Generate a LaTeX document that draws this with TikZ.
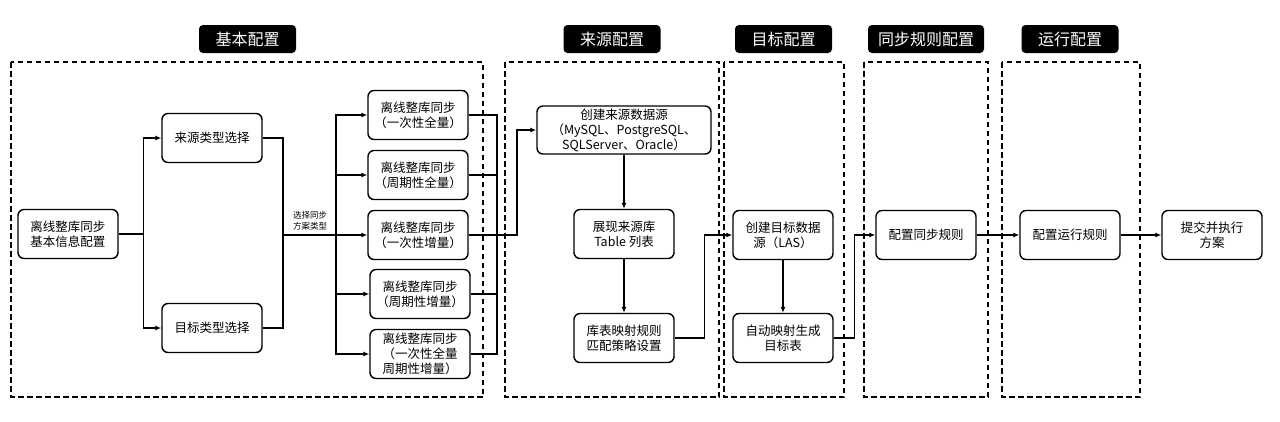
\documentclass[tikz,border=0pt]{standalone}
\usepackage{fontspec}
\setmainfont{Noto Sans CJK SC}
\usetikzlibrary{arrows.meta}

\begin{document}
\begin{tikzpicture}
  [x=1pt,y=-1pt,
   box/.style={draw,line width=1.4pt,rounded corners=6pt,minimum width=100pt,minimum height=49pt,align=center,inner sep=1pt,font=\fontsize{12.5}{15}\selectfont},
   title/.style={fill=black,rounded corners=4pt,text=white,minimum width=97pt,minimum height=28pt,inner sep=1pt,font=\fontsize{16}{19}\selectfont},
   frame/.style={line width=1.4pt,dash pattern=on 5.5pt off 3.5pt},
   link/.style={line width=1.3pt},
   arr/.style={line width=1.3pt,-{Latex[length=6pt,width=5pt]}}]
  \useasboundingbox[fill=white] (0,0) rectangle (1280,421);
  % stages
  \draw[frame] (11,62) rectangle (483,397);
  \draw[frame] (505,62) rectangle (719,397);
  \draw[frame] (724,62) rectangle (844,397);
  \draw[frame] (864,62) rectangle (988,397);
  \draw[frame] (1002,62) rectangle (1140,397);
  \node[title] (t1) at (247.5,39) {基本配置};
  \node[title] (t2) at (612,39) {来源配置};
  \node[title] (t3) at (783.5,39) {目标配置};
  \node[title,minimum width=116pt] (t4) at (926,39) {同步规则配置};
  \node[title] (t5) at (1070,39) {运行配置};
  % basic
  \node[box] (base) at (68,234) {离线整库同步\\基本信息配置};
  \node[box] (src) at (212,138) {来源类型选择};
  \node[box] (tgt) at (212,328) {目标类型选择};
  \node[box] (m1) at (418,115) {离线整库同步\\（一次性全量）};
  \node[box] (m2) at (418,175) {离线整库同步\\（周期性全量）};
  \node[box] (m3) at (418,235) {离线整库同步\\（一次性增量）};
  \node[box] (m4) at (420,294) {离线整库同步\\（周期性增量）};
  \node[box] (m5) at (420,354) {离线整库同步\\（一次性全量\\周期性增量）};
  \node[align=center,inner sep=0pt,font=\fontsize{8.5}{10.5}\selectfont] (lbl) at (310,221) {选择同步\\方案类型};
  % source / target
  \node[box,minimum width=174pt,minimum height=48pt,inner sep=0pt] (cs) at (624,130) {创建来源数据源\\（MySQL、PostgreSQL、\\SQLServer、Oracle）};
  \node[box] (show) at (624,234) {展现来源库\\Table 列表};
  \node[box] (map) at (624,338) {库表映射规则\\匹配策略设置};
  \node[box] (ct) at (783,235) {创建目标数据\\源（LAS）};
  \node[box] (am) at (783,338) {自动映射生成\\目标表};
  \node[box] (sr) at (926,235) {配置同步规则};
  \node[box] (rr) at (1070,235) {配置运行规则};
  \node[box] (sub) at (1212,235) {提交并执行\\方案};
  \coordinate (j1) at (283,235);
  \coordinate (j2) at (336,235);
  \coordinate (j3) at (497,235);
  \draw[arr] (base.east) -- ++(25,0) |- (src);
  \draw[arr] (base.east) -- ++(25,0) |- (tgt);
  \draw[link] (src) -| (j1);
  \draw[link] (tgt) -| (j1);
  \draw[arr] (j1) -- (m3);
  \foreach \m in {m1,m2,m4,m5}
    {\draw[arr] (j2) |- (\m);
     \draw[link] (\m) -| (j3);}
  \draw[link] (m3) -- (j3);
  \draw[arr] (j3) -- ++(20,0) |- (cs);
  \draw[arr] (map.east) -- ++(30,0) |- (ct);
  \draw[arr] (am.east) -- ++(21,0) |- (sr);
  \foreach \from/\to in {cs/show,show/map,ct/am,sr/rr,rr/sub}
    \draw[arr] (\from) -- (\to);
\end{tikzpicture}
\end{document}
